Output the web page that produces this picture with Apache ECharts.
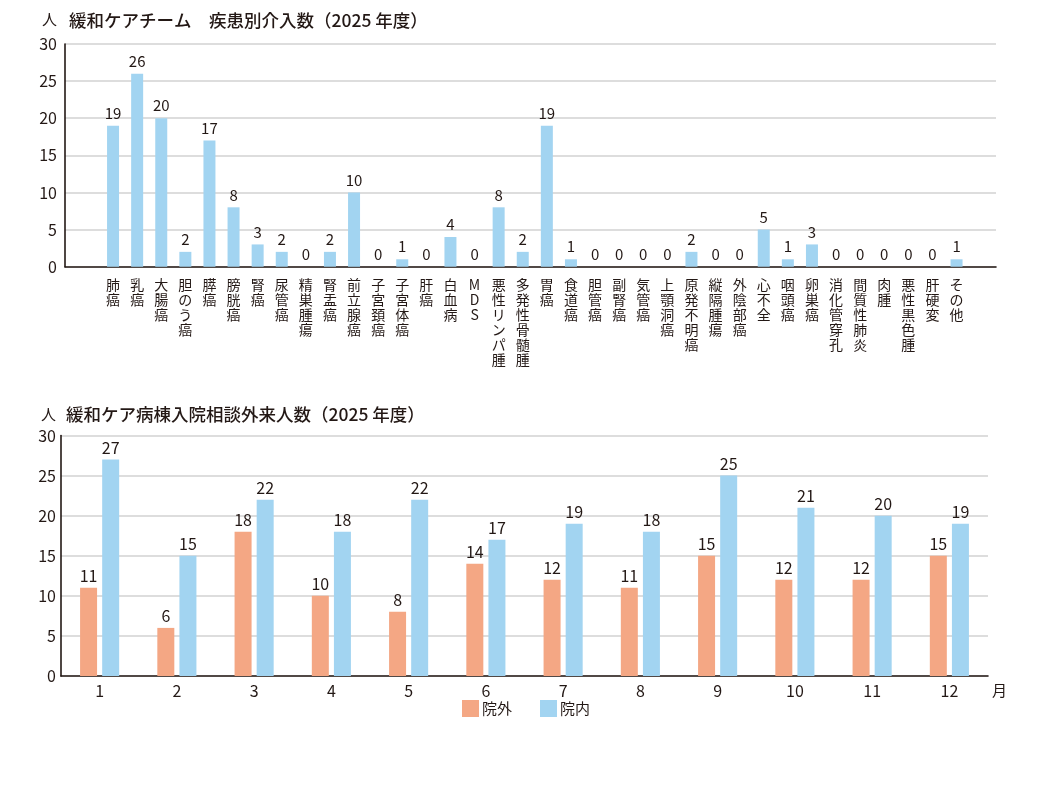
<!DOCTYPE html>
<html>
<head>
<meta charset="utf-8">
<script src="https://cdn.jsdelivr.net/npm/echarts@6/dist/echarts.min.js"></script>
<style>
html,body{margin:0;padding:0;background:#fff;}
#c{width:1063px;height:800px;}
</style>
</head>
<body>
<div id="c"></div>
<script>
const diseaseCategories = ['肺癌','乳癌','大腸癌','胆のう癌','膵癌','膀胱癌','腎癌','尿管癌','精巣腫瘍','腎盂癌','前立腺癌','子宮頚癌','子宮体癌','肝癌','白血病','MDS','悪性リンパ腫','多発性骨髄腫','胃癌','食道癌','胆管癌','副腎癌','気管癌','上顎洞癌','原発不明癌','縦隔腫瘍','外陰部癌','心不全','咽頭癌','卵巣癌','消化管穿孔','間質性肺炎','肉腫','悪性黒色腫','肝硬変','その他'];
const diseaseCounts = [19,26,20,2,17,8,3,2,0,2,10,0,1,0,4,0,8,2,19,1,0,0,0,0,2,0,0,5,1,3,0,0,0,0,0,1];
const months = ['1','2','3','4','5','6','7','8','9','10','11','12'];
const outsideCounts = [11,6,18,10,8,14,12,11,15,12,12,15];
const insideCounts = [27,15,22,18,22,17,19,18,25,21,20,19];
const yTicks = {min:0, max:30, interval:5};

const FONT = '"Noto Sans CJK JP","Noto Sans",sans-serif';
const TXT = '#231815';
const BLUE = '#a2d4f1';
const SALMON = '#f4a784';
const GRIDC = '#d2d2d2';

const chart = echarts.init(document.getElementById('c'));
chart.setOption({
  backgroundColor:'#fff',
  textStyle:{fontFamily:FONT,color:TXT},
  animation:false,
  title:[
    {text:'緩和ケアチーム　疾患別介入数（2025 年度）',left:64,top:7,textStyle:{fontFamily:FONT,fontSize:17.5,fontWeight:500,color:TXT}},
    {text:'緩和ケア病棟入院相談外来人数（2025 年度）',left:61,top:401,textStyle:{fontFamily:FONT,fontSize:17.5,fontWeight:500,color:TXT}}
  ],
  legend:{
    data:['院外','院内'],left:457,top:695,itemWidth:17,itemHeight:17,itemGap:28,
    icon:'rect',
    textStyle:{fontFamily:FONT,fontSize:15,color:TXT,padding:[0,0,0,-2]}
  },
  grid:[
    {left:65,top:44,width:931,height:222.7},
    {left:101,top:44,width:867.6,height:222.7},
    {left:61,top:435.5,width:927,height:240.5}
  ],
  xAxis:[
    {gridIndex:0,type:'value',min:0,max:1,axisLine:{show:true,onZero:false,lineStyle:{color:TXT,width:1.6}},axisTick:{show:false},axisLabel:{show:false},splitLine:{show:false}},
    {gridIndex:1,type:'category',data:diseaseCategories,axisLine:{show:false},axisTick:{show:false},
      axisLabel:{interval:0,margin:10,fontSize:14,lineHeight:15,color:TXT,verticalAlign:'top',fontFamily:FONT,
        formatter:function(v){return v.split('').join('\n');}}},
    {gridIndex:2,type:'category',data:months,axisLine:{lineStyle:{color:TXT,width:1.6}},axisTick:{show:false},
      axisLabel:{margin:7,fontSize:16,color:TXT,fontFamily:FONT},
      name:'月',nameLocation:'end',nameGap:4,
      nameTextStyle:{fontSize:15,color:TXT,align:'left',verticalAlign:'top',padding:[7,0,0,0],fontFamily:FONT}}
  ],
  yAxis:[
    {gridIndex:0,type:'value',min:yTicks.min,max:yTicks.max,interval:yTicks.interval,
      axisLine:{show:true,lineStyle:{color:TXT,width:1.6}},axisTick:{show:false},
      axisLabel:{margin:8,fontSize:16,color:TXT,fontFamily:FONT},
      splitLine:{lineStyle:{color:GRIDC,width:1.5}},
      name:'人',nameLocation:'end',nameGap:17,
      nameTextStyle:{fontSize:15,color:TXT,align:'right',padding:[0,8,0,0],fontFamily:FONT}},
    {gridIndex:1,type:'value',min:yTicks.min,max:yTicks.max,interval:yTicks.interval,show:false,splitLine:{show:false}},
    {gridIndex:2,type:'value',min:yTicks.min,max:yTicks.max,interval:yTicks.interval,
      axisLine:{show:true,lineStyle:{color:TXT,width:1.6}},axisTick:{show:false},
      axisLabel:{margin:5,fontSize:16,color:TXT,fontFamily:FONT},
      splitLine:{lineStyle:{color:GRIDC,width:1.5}},
      name:'人',nameLocation:'end',nameGap:14,
      nameTextStyle:{fontSize:15,color:TXT,align:'right',padding:[0,5,0,0],fontFamily:FONT}}
  ],
  series:[
    {type:'bar',xAxisIndex:1,yAxisIndex:1,data:diseaseCounts,barWidth:12,
      itemStyle:{color:BLUE},
      label:{show:true,position:'top',distance:5,fontSize:15,color:TXT,fontFamily:FONT}},
    {name:'院外',type:'bar',xAxisIndex:2,yAxisIndex:2,data:outsideCounts,barWidth:17,barGap:'30%',
      itemStyle:{color:SALMON},
      label:{show:true,position:'top',distance:4,fontSize:16,color:TXT,fontFamily:FONT}},
    {name:'院内',type:'bar',xAxisIndex:2,yAxisIndex:2,data:insideCounts,barWidth:17,barGap:'30%',
      itemStyle:{color:BLUE},
      label:{show:true,position:'top',distance:4,fontSize:16,color:TXT,fontFamily:FONT}}
  ]
});
</script>
</body>
</html>
